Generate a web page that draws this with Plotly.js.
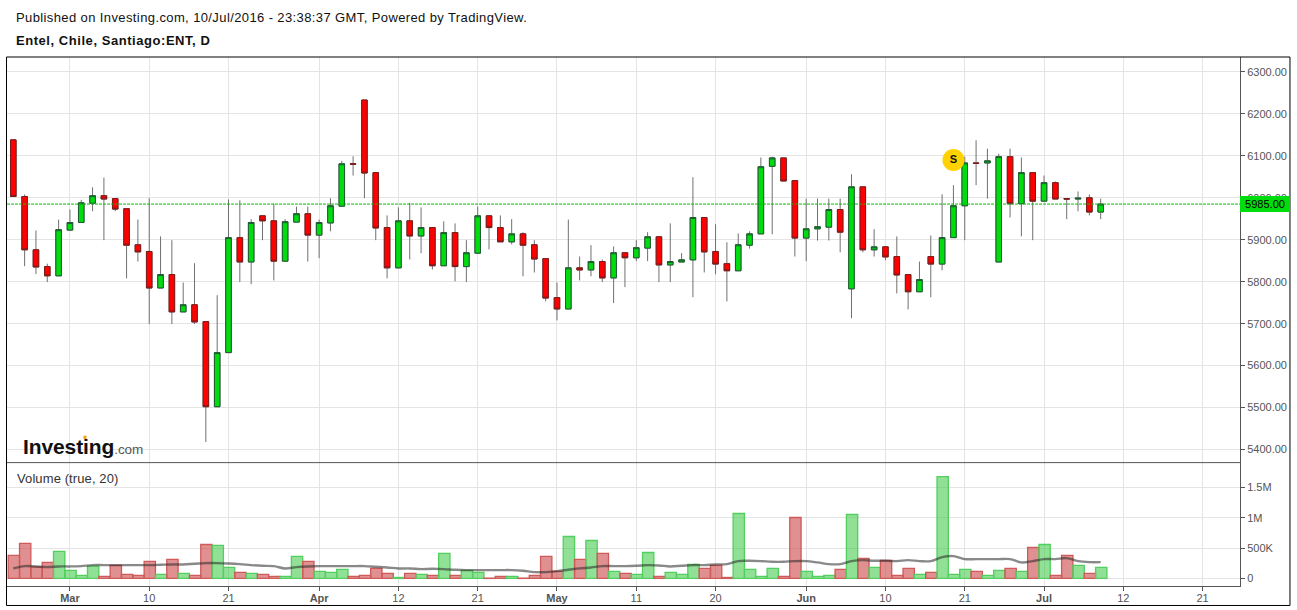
<!DOCTYPE html>
<html><head><meta charset="utf-8">
<script src="https://cdn.plot.ly/plotly-3.0.1.min.js"></script>
<style>html,body{margin:0;padding:0;background:#fff;overflow:hidden}#c{width:1297px;height:610px}
.annotation[data-index="0"] text{letter-spacing:.39px}
.annotation[data-index="1"] text{letter-spacing:.55px}
.annotation[data-index="2"] text{letter-spacing:.1px}
.annotation[data-index="3"] text{letter-spacing:-.1px}
</style>
</head><body><div id="c"></div>
<script>
const dates = ["2016-02-23","2016-02-24","2016-02-25","2016-02-26","2016-02-29",
"2016-03-01","2016-03-02","2016-03-03","2016-03-04","2016-03-07","2016-03-08","2016-03-09","2016-03-10","2016-03-11",
"2016-03-14","2016-03-15","2016-03-16","2016-03-17","2016-03-18","2016-03-21","2016-03-22","2016-03-23","2016-03-24",
"2016-03-28","2016-03-29","2016-03-30","2016-03-31","2016-04-01","2016-04-04","2016-04-05","2016-04-06","2016-04-07","2016-04-08",
"2016-04-11","2016-04-12","2016-04-13","2016-04-14","2016-04-15","2016-04-18","2016-04-19","2016-04-20","2016-04-21","2016-04-22",
"2016-04-25","2016-04-26","2016-04-27","2016-04-28","2016-04-29","2016-05-02","2016-05-03","2016-05-04","2016-05-05","2016-05-06",
"2016-05-09","2016-05-10","2016-05-11","2016-05-12","2016-05-13","2016-05-16","2016-05-17","2016-05-18","2016-05-19","2016-05-20",
"2016-05-23","2016-05-24","2016-05-25","2016-05-26","2016-05-27","2016-05-30","2016-05-31","2016-06-01","2016-06-02","2016-06-03",
"2016-06-06","2016-06-07","2016-06-08","2016-06-09","2016-06-10","2016-06-13","2016-06-14","2016-06-15","2016-06-16","2016-06-17",
"2016-06-20","2016-06-21","2016-06-22","2016-06-23","2016-06-24","2016-06-28","2016-06-29","2016-06-30","2016-07-01",
"2016-07-04","2016-07-05","2016-07-06","2016-07-07","2016-07-08"];
const futureDates = ["2016-07-11","2016-07-12","2016-07-13","2016-07-14","2016-07-15","2016-07-18","2016-07-19","2016-07-20","2016-07-21","2016-07-22","2016-07-25","2016-07-26","2016-07-27"];

const open = [6138,6003,5876,5836,5814,5923,5941,5987,6005,5998,5974,5888,5872,5785,5817,5728,5745,5705,5502,5631,
5905,5847,5957,5945,5849,5942,5962,5911,5940,5980,6081,6233,6060,5929,5833,5945,5909,5929,5838,5917,
5836,5868,5957,5929,5895,5914,5888,5855,5762,5735,5833,5828,5848,5809,5869,5857,5880,5907,5840,5847,
5852,5953,5872,5843,5826,5887,5914,6075,6095,6041,5904,5926,5930,5972,5783,6026,5876,5883,5860,5817,
5776,5860,5842,5905,5981,6083,6083,5847,6098,5986,6060,5992,6036,5998,5997,6000,5966];
const close = [6003,5876,5835,5814,5924,5941,5988,6005,5997,5973,5887,5871,5785,5817,5728,5745,5704,5502,5631,5905,
5847,5941,5945,5849,5943,5962,5911,5941,5981,6081,6080,6059,5928,5833,5945,5909,5929,5838,5917,5836,
5869,5957,5929,5895,5914,5887,5854,5761,5735,5833,5828,5848,5809,5869,5857,5881,5907,5840,5848,5852,
5953,5871,5842,5826,5888,5914,6074,6095,6040,5904,5926,5931,5972,5918,6026,5876,5883,5859,5816,5776,
5805,5842,5905,5981,6083,6082,6088,6098,5986,6060,5992,6036,5997,5997,5999,5966,5985];
const high = [6138,6008,5922,5843,5948,5972,5995,6025,6048,5998,5974,5948,5999,5908,5899,5798,5844,5705,5768,5996,
5994,5949,5957,5986,5949,5979,5979,5948,5999,6088,6099,6233,6060,5958,5977,5988,5977,5929,5944,5939,
5899,5979,5957,5958,5949,5918,5899,5855,5798,5948,5860,5887,5853,5884,5869,5899,5918,5907,5939,5868,
6049,5953,5937,5894,5915,5920,6096,6098,6095,6041,5998,5998,5998,5998,6056,6026,5925,5883,5908,5817,
5848,5910,6008,6030,6098,6137,6117,6105,6117,6096,6060,6053,6039,5998,6015,6008,5998];
const low = [6003,5837,5818,5799,5814,5923,5941,5968,5899,5968,5808,5848,5699,5785,5699,5728,5699,5418,5502,5631,
5799,5794,5899,5803,5849,5942,5848,5856,5920,5980,6053,5999,5899,5808,5833,5853,5868,5829,5838,5801,
5799,5868,5877,5895,5889,5813,5822,5753,5708,5735,5803,5813,5799,5749,5787,5849,5849,5799,5799,5847,
5763,5822,5818,5753,5826,5879,5914,5913,6040,5860,5849,5898,5898,5870,5713,5870,5860,5851,5772,5734,
5776,5763,5827,5905,5899,6030,5998,5847,5953,5908,5899,5992,5997,5949,5968,5958,5949];
const volume = [379,577,190,264,445,132,50,203,33,214,66,50,280,66,313,82,50,560,544,181,
99,82,66,33,33,363,280,115,99,148,33,50,165,82,16,82,66,50,412,50,
132,99,5,33,33,5,50,363,115,692,313,626,412,115,82,66,428,33,99,66,
231,165,214,16,1071,148,33,165,33,1005,115,33,50,148,1055,330,181,297,50,165,
66,99,1681,66,148,115,50,132,165,115,511,560,50,379,214,82,181].map(v => v * 1000);
const volumeMA = [165,203,198,187,198,198,203,220,220,220,220,220,220,225,231,231,242,253,253,247,
236,220,209,203,165,187,198,203,203,203,203,203,192,181,165,165,154,159,154,143,
137,137,137,137,137,126,104,104,121,143,165,181,203,203,203,209,220,214,198,209,
220,220,231,236,286,291,286,275,275,286,286,264,236,236,286,302,291,291,286,302,
286,286,352,368,319,319,319,319,319,264,286,319,319,335,286,269,269].map(v => v * 1000);

const xTickVals = ["2016-03-01","2016-03-10","2016-03-21","2016-04-01","2016-04-12","2016-04-21","2016-05-02","2016-05-11","2016-05-20","2016-06-01","2016-06-10","2016-06-21","2016-07-01","2016-07-12","2016-07-21"];
const xTickText = ["<b>Mar</b>","10","21","<b>Apr</b>","12","21","<b>May</b>","11","20","<b>Jun</b>","10","21","<b>Jul</b>","12","21"];
const priceTicks = [5400,5500,5600,5700,5800,5900,6000,6100,6200,6300];
const volumeTicks = [0,500000,1000000,1500000];
const volumeTickText = ["0","500K","1M","1.5M"];
const lastPrice = 5985;
const signalDate = "2016-06-20", signalPrice = 6090;

const W = 1297, H = 610, L = 7, R = 1240.5, T = 56.5, B = 586;
const px = x => (x - L) / (R - L), py = y => (B - y) / (B - T);
const FONT = '"Liberation Sans", Arial, sans-serif';
const GRID = '#e4e4e4', AXIS = '#555555';
const green = '#00dc0e', red = '#ff0000';
const volColor = open.map((o,i) => close[i] < o ? 'rgba(204,70,70,0.6)' : 'rgba(60,200,70,0.57)');
const volLine  = open.map((o,i) => close[i] < o ? '#cf5a5a' : '#52cf5f');

const traces = [
 {type:'bar', x:dates, y:volume, xaxis:'x', yaxis:'y2', width:1, offset:-0.45, marker:{color:volColor, line:{color:volLine, width:1.3}}, hoverinfo:'skip', showlegend:false},
 {type:'scatter', mode:'lines', x:dates, y:volumeMA, xaxis:'x', yaxis:'y2', line:{color:'rgba(40,40,40,0.55)', width:2.4, shape:'spline'}, hoverinfo:'skip', showlegend:false},
 {type:'candlestick', x:dates, open:open, high:high, low:low, close:close, xaxis:'x', yaxis:'y', whiskerwidth:0,
  increasing:{line:{color:'#707070',width:1}, fillcolor:'#707070'}, decreasing:{line:{color:'#707070',width:1}, fillcolor:'#707070'}, hoverinfo:'skip', showlegend:false},
 {type:'candlestick', x:dates, open:open, close:close, high:open.map((o,i)=>Math.max(o,close[i])), low:open.map((o,i)=>Math.min(o,close[i])), xaxis:'x', yaxis:'y', whiskerwidth:0,
  increasing:{line:{color:'#1d5c32',width:1}, fillcolor:green}, decreasing:{line:{color:'#7c1c1c',width:1}, fillcolor:red}, hoverinfo:'skip', showlegend:false},
 {type:'scatter', mode:'markers+text', x:[signalDate], y:[signalPrice], xaxis:'x', yaxis:'y', marker:{size:22, color:'#ffd200', line:{width:0}}, text:['<b>S</b>'], textposition:'middle center', textfont:{family:FONT, size:11, color:'#111'}, hoverinfo:'skip', showlegend:false}
];

const text = (x, y, t, size, color, anchor) => ({xref:'paper', yref:'paper', x:px(x), y:py(y), text:t, showarrow:false, xanchor:anchor||'left', yanchor:'middle', align:'left', font:{family:FONT, size:size, color:color}, borderpad:0, borderwidth:0});

const layout = {
 width:W, height:H, margin:{l:L, r:W-R, t:T, b:H-B, pad:0}, paper_bgcolor:'#fff', plot_bgcolor:'#fff', showlegend:false,
 font:{family:FONT, size:11, color:AXIS}, bargap:0, boxmode:'overlay', boxgap:0.3,
 xaxis:{type:'category', anchor:'y2', domain:[0,1], categoryorder:'array', categoryarray:dates.concat(futureDates), range:[-0.556,108.3], rangeslider:{visible:false},
   tickmode:'array', tickvals:xTickVals, ticktext:xTickText, ticks:'outside', ticklen:4, ticklabelstandoff:-2, tickcolor:AXIS, tickangle:0, showgrid:true, gridcolor:GRID, gridwidth:1, showline:true, linecolor:AXIS, linewidth:1, zeroline:false, tickfont:{family:FONT, size:11, color:AXIS}, fixedrange:true},
 yaxis:{domain:[py(462),1], anchor:'x', side:'right', range:[5370,6335.5], tickmode:'array', tickvals:priceTicks, ticktext:priceTicks.map(v=>v.toFixed(2)), ticks:'outside', ticklen:4, tickcolor:AXIS, showgrid:true, gridcolor:GRID, gridwidth:1, showline:true, linecolor:AXIS, linewidth:1, zeroline:false, tickfont:{family:FONT, size:11, color:AXIS}, fixedrange:true},
 yaxis2:{domain:[0,py(462)], anchor:'x', side:'right', range:[-125000,1919000], tickmode:'array', tickvals:volumeTicks, ticktext:volumeTickText, ticks:'outside', ticklen:4, tickcolor:AXIS, showgrid:true, gridcolor:GRID, gridwidth:1, showline:true, linecolor:AXIS, linewidth:1, zeroline:false, tickfont:{family:FONT, size:11, color:AXIS}, fixedrange:true},
 shapes:[
  {type:'line', xref:'paper', yref:'paper', x0:px(L), x1:px(R), y0:py(462.5), y1:py(462.5), line:{color:AXIS, width:1}},
  {type:'rect', xref:'paper', yref:'paper', x0:px(6.5), x1:px(1290.5), y0:py(605.5), y1:py(56.5), line:{color:'#000', width:1}},
  {type:'line', xref:'paper', yref:'y', x0:px(L), x1:px(1241), y0:lastPrice, y1:lastPrice, line:{color:'#00c000', width:1, dash:'3px,1px'}},
  {type:'rect', xref:'paper', yref:'paper', x0:px(83.5), x1:px(86.5), y0:py(439), y1:py(435.5), fillcolor:'#f7a11a', line:{width:0}}
 ],
 annotations:[
  text(16,17,'Published on Investing.com, 10/Jul/2016 - 23:38:37 GMT, Powered by TradingView.',13,'#111'),
  text(16,39.5,'<b>Entel, Chile, Santiago:ENT, D</b>',13,'#111'),
  text(17,478.5,'Volume (true, 20)',13,'#333'),
  text(23,446.5,'<b>Investing</b><span style="font-size:13.5px;color:#555">.com</span>',21,'#111'),
  {xref:'paper', yref:'paper', x:px(1240.5), y:py(204), xanchor:'left', yanchor:'middle', width:50, height:16, text:'5985.00', showarrow:false, bgcolor:green, font:{family:FONT, size:11, color:'#000'}, borderpad:0, borderwidth:0, align:'center'}
 ]
};
Plotly.newPlot('c', traces, layout, {displayModeBar:false, staticPlot:true});
</script></body></html>
